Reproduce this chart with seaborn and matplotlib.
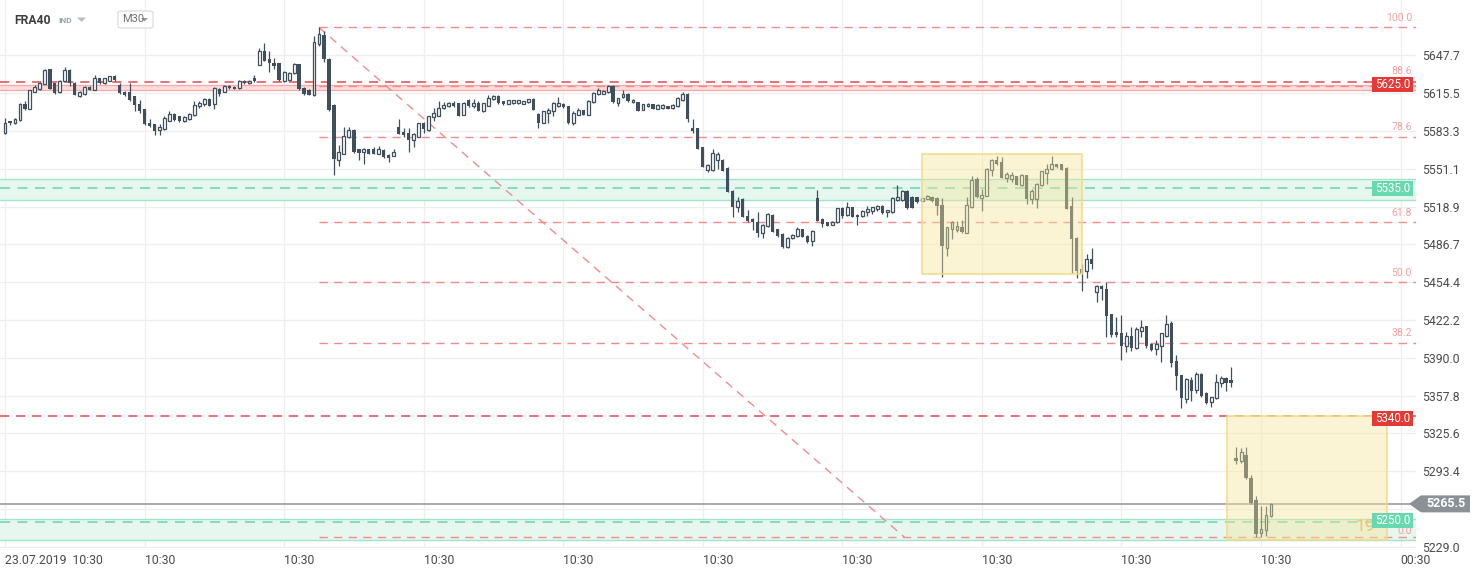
import numpy as np
import pandas as pd
import matplotlib
matplotlib.use("Agg")
import matplotlib.pyplot as plt
import matplotlib.patches as mpatches
import matplotlib.transforms as mtransforms
import seaborn as sns

# ---------------- data ----------------
opens = [5581.3, 5591.6, 5589.9, 5592.8, 5606.3, 5602.5, 5616.9, 5619.2, 5623.5, 5635.8,
         5624.3, 5616.3, 5626.3, 5635.2, 5624.3, 5612.9, 5614.9, 5620.9, 5618.6, 5628.3,
         5624.3, 5626.3, 5629.8, 5622.6, 5616.9, 5616.3, 5612.9, 5606.6, 5602.0, 5590.2,
         5589.3, 5584.2, 5584.8, 5592.2, 5597.7, 5595.7, 5592.2, 5593.4, 5596.8, 5604.3,
         5606.6, 5610.6, 5606.3, 5619.2, 5616.9, 5622.0, 5620.9, 5619.7, 5626.3, 5624.3,
         5628.1, 5639.8, 5651.6, 5644.4, 5641.0, 5641.0, 5625.8, 5627.2, 5632.4, 5640.1,
         5620.0, 5618.6, 5614.3, 5657.9, 5665.0, 5645.0, 5605.7, 5559.0, 5564.1, 5577.9,
         5584.2, 5567.6, 5565.6, 5567.9, 5567.6, 5564.1, 5567.0, 5563.3, 5562.1, 5586.5,
         5582.8, 5581.3, 5575.6, 5578.5, 5590.5, 5584.2, 5595.1, 5596.2, 5602.8, 5604.3,
         5607.1, 5607.1, 5597.1, 5610.0, 5604.3, 5607.1, 5600.0, 5604.8, 5610.6, 5613.4,
         5608.6, 5606.6, 5607.1, 5607.1, 5606.6, 5607.7, 5610.6, 5597.9, 5590.5, 5598.5,
         5600.0, 5604.3, 5606.6, 5604.3, 5590.5, 5597.1, 5601.0, 5597.1, 5607.7, 5615.2,
         5615.2, 5616.3, 5621.5, 5607.1, 5612.3, 5615.2, 5607.7, 5607.7, 5601.4, 5604.3,
         5606.3, 5602.0, 5602.8, 5604.3, 5602.8, 5604.3, 5609.4, 5615.2, 5585.6, 5585.6,
         5569.9, 5549.8, 5550.4, 5558.4, 5559.0, 5551.8, 5532.6, 5518.3, 5525.4, 5511.1,
         5508.2, 5505.9, 5496.8, 5502.5, 5512.0, 5499.6, 5495.3, 5484.4, 5491.9, 5493.9,
         5499.6, 5493.9, 5489.6, 5526.3, 5508.2, 5505.4, 5503.3, 5505.4, 5517.7, 5512.0,
         5518.3, 5512.0, 5511.1, 5514.0, 5514.8, 5516.8, 5519.7, 5514.0, 5514.0, 5524.6,
         5524.6, 5532.6, 5527.4, 5526.9, 5524.0, 5525.4, 5527.4, 5526.3, 5520.6, 5483.9,
         5499.6, 5498.8, 5501.6, 5496.8, 5518.3, 5542.6, 5526.3, 5528.3, 5550.4, 5558.4,
         5557.0, 5543.5, 5542.6, 5544.6, 5536.9, 5545.5, 5525.4, 5525.4, 5536.9, 5547.5,
         5551.2, 5555.0, 5555.0, 5551.8, 5519.7, 5492.5, 5465.5, 5464.4, 5473.9, 5445.8,
         5450.9, 5448.7, 5427.4, 5412.2, 5410.9, 5399.9, 5408.5, 5398.0, 5413.1, 5417.1,
         5401.7, 5397.1, 5399.9, 5408.5, 5420.0, 5387.3, 5375.0, 5355.0, 5370.7, 5362.7,
         5375.9, 5359.8, 5352.0, 5355.8, 5368.4, 5373.0, 5370.7, 5304.3, 5302.3, 5307.2,
         5287.3, 5268.8, 5240.4, 5243.2, 5255.2]

highs = [5594.2, 5592.2, 5594.0, 5607.0, 5609.1, 5618.6, 5622.9, 5625.0, 5635.8, 5636.3,
         5624.5, 5627.2, 5638.1, 5635.8, 5624.9, 5617.7, 5621.5, 5621.3, 5631.2, 5628.8,
         5628.6, 5630.6, 5631.2, 5624.3, 5617.2, 5624.3, 5613.4, 5610.0, 5602.5, 5593.4,
         5589.5, 5589.3, 5595.7, 5600.0, 5598.5, 5596.2, 5596.5, 5598.5, 5608.6, 5608.6,
         5611.4, 5611.4, 5620.9, 5620.0, 5622.3, 5622.3, 5621.3, 5627.2, 5626.8, 5627.2,
         5631.2, 5654.4, 5658.7, 5651.6, 5645.8, 5641.3, 5634.3, 5633.5, 5641.0, 5640.6,
         5620.5, 5619.0, 5664.5, 5671.6, 5668.8, 5645.2, 5606.0, 5571.3, 5586.5, 5586.5,
         5585.0, 5567.9, 5568.6, 5568.4, 5569.3, 5570.4, 5568.4, 5563.6, 5568.4, 5593.4,
         5585.6, 5585.6, 5581.9, 5590.5, 5591.4, 5596.2, 5602.8, 5608.6, 5607.7, 5607.7,
         5608.6, 5607.5, 5607.7, 5610.6, 5610.6, 5608.6, 5607.5, 5614.3, 5614.3, 5614.3,
         5609.1, 5609.8, 5609.8, 5609.8, 5609.0, 5611.0, 5611.4, 5598.5, 5600.8, 5602.8,
         5607.7, 5612.3, 5607.0, 5604.8, 5600.0, 5602.8, 5601.4, 5609.4, 5616.3, 5620.0,
         5618.3, 5622.9, 5622.5, 5611.7, 5618.6, 5615.5, 5610.6, 5608.0, 5606.6, 5606.8,
         5606.6, 5606.0, 5606.0, 5604.6, 5606.0, 5612.3, 5616.3, 5615.7, 5593.4, 5586.0,
         5570.0, 5555.5, 5567.6, 5565.6, 5559.3, 5552.7, 5532.8, 5526.9, 5526.3, 5516.0,
         5509.0, 5514.0, 5503.9, 5513.1, 5513.0, 5500.0, 5496.0, 5493.0, 5495.2, 5501.6,
         5500.0, 5494.7, 5498.8, 5533.2, 5509.0, 5505.8, 5506.3, 5518.0, 5518.3, 5522.6,
         5518.8, 5512.5, 5516.0, 5519.7, 5518.8, 5520.5, 5520.0, 5516.3, 5526.9, 5536.9,
         5533.0, 5533.0, 5527.8, 5527.2, 5526.5, 5528.6, 5528.3, 5527.4, 5526.3, 5501.6,
         5506.8, 5507.0, 5507.4, 5526.9, 5544.6, 5544.1, 5534.0, 5552.0, 5559.8, 5561.8,
         5561.3, 5548.4, 5548.4, 5545.0, 5546.9, 5546.1, 5534.0, 5538.9, 5549.5, 5555.0,
         5561.8, 5555.2, 5555.3, 5552.7, 5527.4, 5492.7, 5470.1, 5478.4, 5483.6, 5452.4,
         5452.4, 5454.4, 5427.5, 5425.1, 5426.6, 5412.2, 5416.5, 5416.5, 5422.3, 5417.5,
         5402.3, 5405.1, 5411.4, 5426.6, 5421.7, 5392.2, 5375.5, 5372.5, 5373.5, 5377.8,
         5377.0, 5360.5, 5356.9, 5375.9, 5374.1, 5373.5, 5382.1, 5314.2, 5312.9, 5314.2,
         5290.1, 5272.2, 5263.7, 5263.7, 5266.5]

lows = [5580.5, 5588.5, 5589.0, 5592.0, 5601.4, 5602.0, 5616.3, 5618.5, 5623.0, 5618.8,
        5614.9, 5615.7, 5625.8, 5622.0, 5613.7, 5612.0, 5614.3, 5618.0, 5618.0, 5623.8,
        5623.8, 5625.8, 5626.3, 5615.2, 5612.9, 5609.1, 5600.0, 5598.5, 5588.5, 5587.1,
        5579.9, 5579.9, 5584.2, 5592.0, 5591.9, 5590.8, 5591.4, 5593.0, 5596.2, 5602.8,
        5604.8, 5604.3, 5602.0, 5612.9, 5616.3, 5619.2, 5618.8, 5619.2, 5623.8, 5623.5,
        5625.5, 5639.2, 5642.7, 5633.5, 5635.8, 5626.3, 5625.3, 5626.5, 5631.5, 5618.6,
        5614.3, 5613.7, 5612.9, 5655.9, 5642.1, 5600.5, 5545.5, 5553.2, 5563.6, 5577.0,
        5565.0, 5559.0, 5554.9, 5563.6, 5563.6, 5563.6, 5560.7, 5557.0, 5561.8, 5580.5,
        5577.9, 5565.6, 5569.3, 5577.9, 5581.9, 5583.6, 5592.2, 5595.7, 5602.0, 5603.7,
        5603.7, 5595.7, 5596.8, 5603.7, 5602.8, 5600.0, 5599.5, 5604.3, 5610.0, 5606.6,
        5605.7, 5606.0, 5606.6, 5606.6, 5606.0, 5607.2, 5601.0, 5585.6, 5589.9, 5589.9,
        5596.2, 5603.7, 5603.0, 5589.5, 5588.5, 5597.0, 5596.8, 5597.0, 5607.0, 5614.3,
        5615.0, 5615.7, 5607.1, 5604.3, 5611.4, 5608.0, 5607.1, 5600.5, 5601.0, 5604.0,
        5601.7, 5601.7, 5602.5, 5601.7, 5602.5, 5603.7, 5608.6, 5591.4, 5581.9, 5568.0,
        5552.4, 5548.4, 5549.2, 5551.2, 5548.9, 5531.0, 5509.7, 5514.0, 5510.0, 5505.4,
        5498.8, 5493.0, 5492.5, 5501.6, 5497.0, 5493.0, 5484.0, 5483.8, 5491.5, 5493.3,
        5492.6, 5488.2, 5485.3, 5506.5, 5501.1, 5502.0, 5502.9, 5505.0, 5509.1, 5511.1,
        5509.7, 5503.4, 5510.2, 5511.1, 5512.5, 5515.5, 5512.8, 5509.7, 5513.1, 5524.0,
        5524.0, 5517.0, 5517.3, 5522.3, 5523.6, 5525.0, 5522.6, 5512.0, 5458.6, 5476.7,
        5491.0, 5497.0, 5496.8, 5496.5, 5518.0, 5526.6, 5514.8, 5528.0, 5544.6, 5554.1,
        5543.0, 5539.8, 5539.8, 5537.0, 5536.6, 5521.1, 5521.1, 5517.7, 5536.6, 5538.3,
        5550.4, 5552.0, 5550.0, 5516.5, 5462.4, 5458.1, 5447.2, 5458.0, 5465.5, 5437.2,
        5439.5, 5407.4, 5407.4, 5407.9, 5387.9, 5395.0, 5395.9, 5397.1, 5407.9, 5398.0,
        5395.9, 5392.2, 5386.5, 5407.9, 5382.1, 5362.7, 5347.2, 5351.2, 5353.5, 5359.8,
        5356.9, 5350.5, 5348.3, 5355.0, 5364.9, 5361.5, 5365.5, 5299.5, 5300.1, 5286.4,
        5265.8, 5237.5, 5237.0, 5238.1, 5254.1]

closes = [5590.5, 5589.9, 5593.4, 5606.3, 5602.0, 5618.0, 5620.9, 5624.3, 5635.2, 5619.2,
          5615.7, 5626.3, 5635.2, 5624.3, 5614.3, 5616.9, 5620.9, 5618.6, 5628.3, 5624.3,
          5628.1, 5629.8, 5627.2, 5615.7, 5614.3, 5610.0, 5605.7, 5600.8, 5589.3, 5587.9,
          5583.6, 5587.1, 5594.8, 5598.0, 5592.8, 5591.9, 5595.1, 5598.0, 5605.4, 5607.1,
          5610.6, 5604.8, 5620.0, 5614.9, 5622.0, 5619.7, 5619.2, 5626.3, 5624.3, 5626.3,
          5625.8, 5651.6, 5643.0, 5641.0, 5638.7, 5626.6, 5633.8, 5632.9, 5640.1, 5619.2,
          5614.9, 5614.3, 5659.3, 5665.9, 5644.4, 5601.4, 5559.8, 5565.6, 5579.0, 5584.2,
          5565.6, 5564.7, 5568.4, 5564.1, 5564.1, 5567.6, 5561.3, 5560.4, 5565.6, 5580.8,
          5579.9, 5575.6, 5580.8, 5589.9, 5584.8, 5595.7, 5599.1, 5602.8, 5605.7, 5607.1,
          5604.3, 5596.2, 5607.1, 5604.3, 5607.1, 5600.8, 5607.1, 5611.4, 5613.4, 5607.1,
          5606.3, 5609.4, 5609.4, 5609.4, 5608.6, 5610.6, 5601.4, 5590.5, 5600.0, 5601.4,
          5607.1, 5607.1, 5603.7, 5589.9, 5599.1, 5601.0, 5597.1, 5608.6, 5615.7, 5618.0,
          5617.7, 5621.5, 5607.7, 5611.4, 5615.2, 5608.6, 5610.0, 5600.8, 5606.3, 5606.3,
          5602.0, 5605.7, 5605.7, 5602.0, 5605.7, 5611.4, 5615.2, 5593.4, 5583.6, 5568.4,
          5552.7, 5554.1, 5564.7, 5564.1, 5549.2, 5531.2, 5518.3, 5524.0, 5510.2, 5506.8,
          5505.4, 5496.8, 5503.4, 5512.5, 5497.6, 5493.9, 5484.4, 5492.5, 5494.7, 5499.6,
          5493.0, 5489.0, 5498.2, 5506.8, 5503.9, 5502.5, 5505.9, 5517.7, 5511.1, 5518.8,
          5510.2, 5509.7, 5515.4, 5516.8, 5518.3, 5519.7, 5513.1, 5516.0, 5526.3, 5527.4,
          5532.6, 5517.7, 5517.7, 5522.6, 5526.0, 5528.3, 5523.4, 5519.7, 5485.3, 5501.1,
          5505.4, 5502.5, 5497.6, 5520.6, 5541.2, 5526.9, 5529.2, 5551.2, 5558.4, 5555.0,
          5543.5, 5546.9, 5545.5, 5537.5, 5545.5, 5525.4, 5532.6, 5538.3, 5549.2, 5551.2,
          5555.0, 5552.7, 5550.4, 5516.8, 5491.0, 5464.4, 5462.1, 5473.9, 5470.1, 5450.9,
          5448.7, 5425.7, 5409.4, 5409.4, 5399.9, 5408.5, 5398.8, 5414.3, 5416.0, 5399.9,
          5396.5, 5401.7, 5410.9, 5418.9, 5385.6, 5374.1, 5355.8, 5372.2, 5362.1, 5375.9,
          5357.8, 5351.2, 5356.3, 5369.2, 5373.0, 5368.4, 5368.4, 5302.3, 5310.0, 5287.3,
          5266.5, 5239.8, 5243.8, 5256.0, 5265.5]

price_ticks = [5647.7, 5615.5, 5583.3, 5551.1, 5518.9, 5486.7, 5454.4, 5422.2,
               5390.0, 5357.8, 5325.6, 5293.4, 5261.2, 5229.0]
price_tick_labels = ["5647.7", "5615.5", "5583.3", "5551.1", "5518.9", "5486.7", "5454.4",
                     "5422.2", "5390.0", "5357.8", "5325.6", "5293.4", "", "5229.0"]
time_ticks = [0, 28, 56, 84, 112, 140, 168, 196, 224, 252, 280]
time_labels = ["23.07.2019  10:30", "10:30", "10:30", "10:30", "10:30", "10:30",
               "10:30", "10:30", "10:30", "10:30", "00:30"]

fib_ratios = [1.0, 0.886, 0.786, 0.618, 0.5, 0.382, 0.0]
fib_labels = ["100.0", "88.6", "78.6", "61.8", "50.0", "38.2", "0.0"]
fib_high_idx, fib_low_idx = 63, 252
fib_line_end_idx = 180.5

red_levels = [5625.0, 5340.0]
green_levels = [5535.0, 5250.0]
red_band = (5618.0, 5622.3)
green_bands = [(5524.5, 5542.4), (5234.7, 5252.6)]
current_price = 5265.5
box1 = (184.0, 216.1, 5461.4, 5563.7)
box2 = (245.2, 277.3, 5234.7, 5340.0)

df = pd.DataFrame({"open": opens, "high": highs, "low": lows, "close": closes})
df["idx"] = np.arange(len(df))

# ---------------- style ----------------
sns.set_theme(style="white")
plt.rcParams["font.family"] = ["Roboto", "DejaVu Sans"]

W, H = 1482, 574
fig = plt.figure(figsize=(W / 100, H / 100), dpi=100)
fig.patch.set_facecolor("white")
ax = fig.add_axes([0, 26 / H, 1416 / W, 548 / H])
ax.set_facecolor("white")
sns.despine(ax=ax, left=True, bottom=True, right=True, top=True)

XL, XR = -1.003, 283.1
YB, YT = 5227.9, 5695.0
ax.set_xlim(XL, XR)
ax.set_ylim(YB, YT)
dpp = (YT - YB) / 548.0  # price per pixel

ax.grid(True, color="#efefef", linewidth=0.9)
ax.set_axisbelow(True)

# ticks
ax.yaxis.tick_right()
ax.set_yticks(price_ticks)
ax.set_yticklabels(price_tick_labels)
ax.tick_params(axis="y", length=0, pad=4.5, labelsize=8.8, labelcolor="#4a4a4a")
ax.set_xticks(time_ticks)
ax.set_xticklabels(time_labels)
ax.tick_params(axis="x", length=0, pad=4.0, labelsize=8.8, labelcolor="#4a4a4a")
for t in ax.get_xticklabels():
    t.set_horizontalalignment("left")

DARK = "#3f4f5b"
FIB = "#f28c8c"

# bands and levels
ax.axhspan(red_band[0], red_band[1], color="#ffdcdc", lw=0, zorder=1)
for v in red_band:
    ax.axhline(v, color="#f7a8a8", lw=0.9, zorder=1.2)
for lo, hi in green_bands:
    ax.axhspan(lo, hi, color="#e6f7f0", lw=0, zorder=1)
    ax.axhline(lo, color="#a3e3cb", lw=1.0, zorder=1.2)
    ax.axhline(hi, color="#a3e3cb", lw=1.0, zorder=1.2)
for v in green_levels:
    ax.axhline(v, color="#74d6b2", lw=1.2, ls=(0, (6, 4.5)), zorder=1.5)
for v in red_levels:
    ax.axhline(v, color="#e24b4b", lw=1.1, ls=(0, (6, 4.5)), zorder=1.5)

# current price line
ax.axhline(current_price, color="#8e9498", lw=1.1, zorder=1.6)

# fibonacci
fib_hi = df["high"][fib_high_idx]
fib_lo = df["low"][fib_low_idx]
fib_levels = [fib_lo + r * (fib_hi - fib_lo) for r in fib_ratios]
ax.hlines(fib_levels, fib_high_idx, XR, colors=FIB, lw=1.0, linestyles=[(0, (6, 4.5))], zorder=1.7)
ax.plot([fib_high_idx, fib_line_end_idx], [fib_hi, fib_lo], color=FIB, lw=1.0,
        ls=(0, (6, 4.5)), zorder=1.7)
tag_trans = mtransforms.blended_transform_factory(ax.transAxes, ax.transData)
label_offsets = {"88.6": 6.6, "0.0": 0.6}
for lv, lb in zip(fib_levels, fib_labels):
    tr = mtransforms.offset_copy(tag_trans, fig=fig, y=label_offsets.get(lb, 3.2), units="points")
    ax.text(1412 / 1416, lv, lb, transform=tr, ha="right", va="bottom",
            fontsize=7.6, color="#f4a0a0", zorder=6, clip_on=False)
ax.text(1356 / 1416, fib_lo + 11 * dpp, "19", transform=tag_trans, ha="left", va="center",
        fontsize=12.5, color="#efc46a", zorder=6)

# candles
up = df["close"] >= df["open"]
ax.vlines(df["idx"], df["low"], df["high"], color=DARK, lw=0.9, zorder=3)
dn = df[~up]
ax.bar(dn["idx"], (dn["open"] - dn["close"]).clip(lower=0.9), bottom=dn["close"],
       width=0.66, color=DARK, lw=0, zorder=4)
upd = df[up]
ax.bar(upd["idx"], (upd["close"] - upd["open"]).clip(lower=0.9), bottom=upd["open"],
       width=0.58, facecolor="white", edgecolor=DARK, lw=0.9, zorder=4)

# yellow boxes
for (x0, x1, y0, y1) in (box1, box2):
    ax.add_patch(mpatches.Rectangle((x0, y0), x1 - x0, y1 - y0, facecolor="#f5e59b",
                                    alpha=0.42, lw=0, zorder=5))
    ax.add_patch(mpatches.Rectangle((x0, y0), x1 - x0, y1 - y0, facecolor="none",
                                    edgecolor="#efdc86", lw=1.1, zorder=5))

# price tags (dy_px: shift of the tag box, in pixels, downward)
def price_tag(value, color, dy_px):
    c = value - dy_px * dpp
    ax.add_patch(mpatches.Rectangle((1372 / 1416, c - 7.5 * dpp), 41 / 1416, 15 * dpp,
                                    transform=tag_trans, facecolor=color, lw=0,
                                    zorder=8, clip_on=False))
    ax.text(1392.5 / 1416, c, f"{value:.1f}", transform=tag_trans, ha="center",
            va="center", fontsize=8.3, color="white", zorder=9)

price_tag(red_levels[0], "#e53935", 2.0)
price_tag(red_levels[1], "#e53935", 2.5)
price_tag(green_levels[0], "#68d8b0", 1.0)
price_tag(green_levels[1], "#68d8b0", -1.8)

# current price marker
mk_trans = mtransforms.blended_transform_factory(fig.transFigure, ax.transData)
hh = 8.5 * dpp
pts = [(1409 / W, current_price), (1421 / W, current_price + hh), (1470 / W, current_price + hh),
       (1470 / W, current_price - hh), (1421 / W, current_price - hh)]
ax.add_patch(mpatches.Polygon(pts, closed=True, transform=mk_trans, facecolor="#8b9297",
                              lw=0, zorder=10, clip_on=False))
ax.text(1446 / W, current_price, f"{current_price:.1f}", transform=mk_trans, ha="center",
        va="center", fontsize=9, fontweight="bold", color="white", zorder=11, clip_on=False)

# header
def fx(px):
    return px / W

def fy(py):
    return 1 - py / H

fig.text(fx(14), fy(20), "FRA40", fontsize=8.7, fontweight="bold", color="#3d3d3d",
         va="center", ha="left")
fig.text(fx(58), fy(20.5), "IND", fontsize=6.0, fontweight="bold", color="#9aa4ab",
         va="center", ha="left")
fig.add_artist(mpatches.Polygon([(fx(77), fy(17.5)), (fx(86), fy(17.5)), (fx(81.5), fy(22))],
                                closed=True, transform=fig.transFigure, facecolor="#b8bec2", lw=0))
fig.add_artist(mpatches.FancyBboxPatch((fx(118), fy(28)), fx(153) - fx(118), fy(11) - fy(28),
                                       boxstyle="round,pad=0,rounding_size=0.003",
                                       transform=fig.transFigure, facecolor="white",
                                       edgecolor="#dcdcdc", lw=0.9))
fig.text(fx(122), fy(19.5), "M30", fontsize=8, color="#707070", va="center", ha="left")
fig.add_artist(mpatches.Polygon([(fx(141), fy(18)), (fx(148), fy(18)), (fx(144.5), fy(21.5))],
                                closed=True, transform=fig.transFigure, facecolor="#9a9a9a", lw=0))

fig.savefig("out.png", dpi=100, facecolor="white")
